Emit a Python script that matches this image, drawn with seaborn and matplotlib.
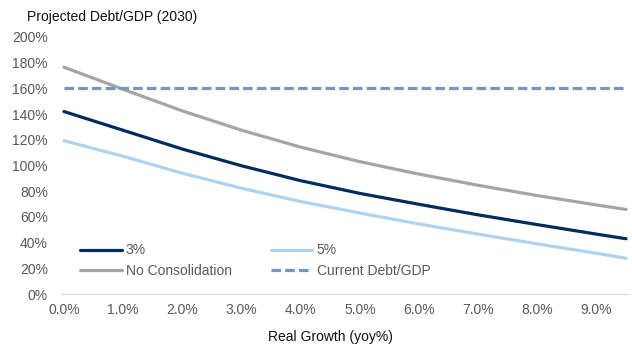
import matplotlib
matplotlib.use("Agg")
import matplotlib.pyplot as plt
import numpy as np
import pandas as pd
import seaborn as sns

# Real GDP growth (% yoy) and projected 2030 debt/GDP (%) under each path
growth = [0.0, 1.0, 2.0, 3.0, 4.0, 5.0, 6.0, 7.0, 8.0, 9.0, 9.5]
no_consolidation = [176.5, 159.3, 142.5, 127.5, 114.3, 103.0, 93.3, 84.6, 76.6, 69.3, 65.8]
consolidation_3 = [142.0, 127.4, 112.8, 99.8, 88.2, 78.3, 69.8, 61.6, 54.0, 46.6, 43.0]
consolidation_5 = [119.3, 107.2, 94.0, 82.3, 72.0, 63.0, 54.5, 46.6, 39.0, 31.7, 27.8]
current_debt = 160.0

x_ticks = [0, 1, 2, 3, 4, 5, 6, 7, 8, 9]
x_tick_labels = ["0.0%", "1.0%", "2.0%", "3.0%", "4.0%", "5.0%", "6.0%", "7.0%", "8.0%", "9.0%"]
y_ticks = [0, 20, 40, 60, 80, 100, 120, 140, 160, 180, 200]
y_tick_labels = [f"{v}%" for v in y_ticks]

series_names = ["3%", "5%", "No Consolidation", "Current Debt/GDP"]

df = pd.DataFrame({
    "growth": growth * 4,
    "debt": consolidation_3 + consolidation_5 + no_consolidation + [current_debt] * len(growth),
    "series": np.repeat(series_names, len(growth)),
})

sns.set_theme(style="white")
plt.rcParams["font.family"] = ["Liberation Sans", "DejaVu Sans"]

palette = {
    "3%": "#002D5E",
    "5%": "#AED3F0",
    "No Consolidation": "#A5A5A5",
    "Current Debt/GDP": "#7097C8",
}

fig = plt.figure(figsize=(6.32, 3.45), dpi=100)
ax = fig.add_axes([61 / 632, 51 / 345, 568 / 632, 257 / 345])

sns.lineplot(data=df, x="growth", y="debt", hue="series", hue_order=series_names,
             palette=palette, linewidth=2.3, ax=ax, legend=False)

# dashed reference line for the current ratio
ax.lines[3].set_dashes([3.0, 1.3])

ax.set_xlim(-0.05, 9.55)
ax.set_ylim(0, 200)
ax.set_xticks(x_ticks)
ax.set_xticklabels(x_tick_labels)
ax.set_yticks(y_ticks)
ax.set_yticklabels(y_tick_labels)
ax.set_xticks(np.arange(-0.05, 9.56, 0.1), minor=True)
ax.tick_params(axis="x", which="major", length=0, pad=6.5, labelsize=10, labelcolor="#595959")
ax.tick_params(axis="x", which="minor", length=4, width=0.8, color="#D9D9D9", direction="out")
ax.tick_params(axis="y", length=0, pad=9.5, labelsize=10, labelcolor="#595959")
ax.set_xlabel("")
ax.set_ylabel("")

for side in ["top", "right", "left"]:
    ax.spines[side].set_visible(False)
ax.spines["bottom"].set_color("#D9D9D9")
ax.spines["bottom"].set_linewidth(0.8)

# legend laid out row by row: 3% | 5% / No Consolidation | Current Debt/GDP
lines = dict(zip(series_names, ax.lines[:4]))
order = ["3%", "No Consolidation", "5%", "Current Debt/GDP"]
leg = ax.legend([lines[n] for n in order], order, ncol=2, loc="upper left",
                bbox_to_anchor=(19 / 568, 0.197), frameon=False,
                borderaxespad=0, borderpad=0, handlelength=3.0, handletextpad=0.3,
                columnspacing=2.8, labelspacing=0.49, fontsize=10)
for t in leg.get_texts():
    t.set_color("#595959")

fig.text(27 / 632, 1 - 17 / 345, "Projected Debt/GDP (2030)", ha="left", va="center",
         fontsize=10, color="#111111")
fig.text(330 / 632, 1 - 337 / 345, "Real Growth (yoy%)", ha="center", va="center",
         fontsize=10, color="#111111")

fig.savefig("out.png", dpi=100)
